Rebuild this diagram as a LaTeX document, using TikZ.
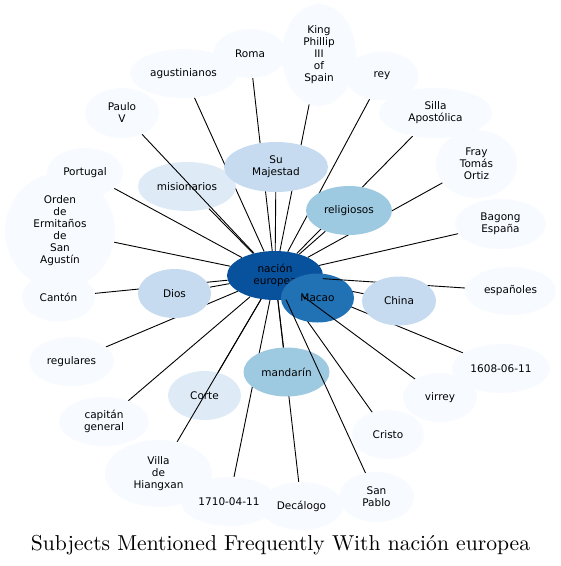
\documentclass[tikz,border=0pt]{standalone}
\usepackage{fontspec}
\newfontfamily\dv{DejaVu Sans}
\newfontfamily\tf{lmroman10-regular}[Extension=.otf]
\usetikzlibrary{shapes.geometric}
\definecolor{bA}{HTML}{F7FBFF}
\definecolor{bB}{HTML}{DEEBF7}
\definecolor{bC}{HTML}{C6DBEF}
\definecolor{bD}{HTML}{9ECAE1}
\definecolor{bG}{HTML}{2171B5}
\definecolor{bH}{HTML}{08519C}
\pgfdeclarelayer{la}
\pgfdeclarelayer{lb}
\pgfdeclarelayer{lc}
\pgfdeclarelayer{ld}
\pgfdeclarelayer{le}
\pgfdeclarelayer{lf}
\pgfdeclarelayer{lh}
\pgfsetlayers{la,lb,lc,ld,le,lf,main,lh}
\tikzset{
  ell/.style n args={2}{ellipse, draw=none, inner sep=0pt, align=center,
    minimum width=#1, minimum height=#2,
    font=\dv\fontsize{10.5}{12}\selectfont, text=black},
  lt/.style={fill=bA},
  edge/.style={draw=black, line width=0.9pt}
}
\begin{document}
\begin{tikzpicture}[x=1pt,y=-1pt]
\useasboundingbox (0,0) rectangle (561,566);
\begin{pgfonlayer}{la}
\node[ell={96pt}{49pt}, fill=bH] (ne) at (275,275.5) {nación\\europea};
\end{pgfonlayer}
\begin{pgfonlayer}{lc}
\node[ell={98pt}{49pt}, fill=bB] (mis) at (187,186.5) {misionarios};
\node[ell={73pt}{49pt}, fill=bB] (corte) at (204.5,395.5) {Corte};
\end{pgfonlayer}
\begin{pgfonlayer}{le}
\node[ell={73pt}{49pt}, fill=bG] (macao) at (317.5,298) {Macao};
\end{pgfonlayer}
% outer nodes
\node[ell={107pt}{49pt}, lt] (agus) at (183.5,73.5) {agustinianos};
\node[ell={74pt}{102pt}, lt] (king) at (319,55) {King\\Phillip\\III\\of\\Spain};
\node[ell={73pt}{49pt}, lt] (roma) at (250,53.5) {Roma};
\node[ell={74pt}{50pt}, lt] (paulo) at (122,113) {Paulo\\V};
\node[ell={110pt}{116pt}, lt] (orden) at (60,231) {Orden\\de\\Ermitaños\\de\\San\\Agustín};
\node[ell={76pt}{49pt}, lt] (portugal) at (85,172.5) {Portugal};
\node[ell={73pt}{49pt}, lt] (canton) at (58.5,297) {Cantón};
\node[ell={73pt}{49pt}, lt] (rey) at (382,76) {rey};
\node[ell={113pt}{50pt}, lt] (silla) at (435.5,113) {Silla\\Apostólica};
\node[ell={81pt}{68pt}, lt] (fray) at (476.5,164) {Fray\\Tomás\\Ortiz};
\node[ell={91pt}{50pt}, lt] (bagong) at (500.5,224) {Bagong\\España};
\node[ell={91pt}{48pt}, lt] (esp) at (510.5,291) {españoles};
\node[ell={98pt}{49pt}, lt] (d1608) at (501,368.5) {1608-06-11};
\node[ell={74pt}{49pt}, lt] (virrey) at (440,397.5) {virrey};
\node[ell={72pt}{49pt}, lt] (cristo) at (388,434.5) {Cristo};
\node[ell={75pt}{50pt}, lt] (sanpablo) at (376.5,497) {San\\Pablo};
\node[ell={107pt}{67pt}, lt] (villa) at (158.5,473.5) {Villa\\de\\Hiangxan};
\node[ell={96pt}{49pt}, lt] (d1710) at (229,501.5) {1710-04-11};
\node[ell={83pt}{48pt}, lt] (deca) at (301.5,506) {Decálogo};
\node[ell={90pt}{49pt}, lt] (capitan) at (104,421.5) {capitán\\general};
\node[ell={85pt}{49pt}, lt] (regulares) at (71.5,361.5) {regulares};
\node[ell={104pt}{50pt}, fill=bC] (suma) at (276,167) {Su\\Majestad};
\node[ell={86pt}{49pt}, fill=bD] (rel) at (349,210.5) {religiosos};
\node[ell={73pt}{49pt}, fill=bC] (dios) at (174.5,293.5) {Dios};
\node[ell={74pt}{49pt}, fill=bC] (china) at (399,301) {China};
\node[ell={86pt}{49pt}, fill=bD] (mand) at (286.5,372) {mandarín};
% connectors
\begin{pgfonlayer}{lb}
\draw[edge] (ne) -- (agus);
\end{pgfonlayer}
\begin{pgfonlayer}{ld}
\draw[edge] (ne) -- (cristo);
\draw[edge] (ne) -- (d1608);
\draw[edge] (ne) -- (china);
\draw[edge] (ne) -- (macao);
\end{pgfonlayer}
\begin{pgfonlayer}{lf}
\foreach \t in {king,roma,paulo,orden,portugal,canton,rey,silla,fray,bagong,esp,virrey,villa,d1710,deca,capitan,regulares,suma,rel,dios,mand,mis,corte}
  \draw[edge] (ne) -- (\t);
\end{pgfonlayer}
\begin{pgfonlayer}{lh}
\draw[edge] (ne) -- (sanpablo);
\end{pgfonlayer}
\node[font=\tf\fontsize{21.6}{25}\selectfont, inner sep=0pt, anchor=base] (title) at (280.5,550) {Subjects Mentioned Frequently With nación europea};
\end{tikzpicture}
\end{document}
